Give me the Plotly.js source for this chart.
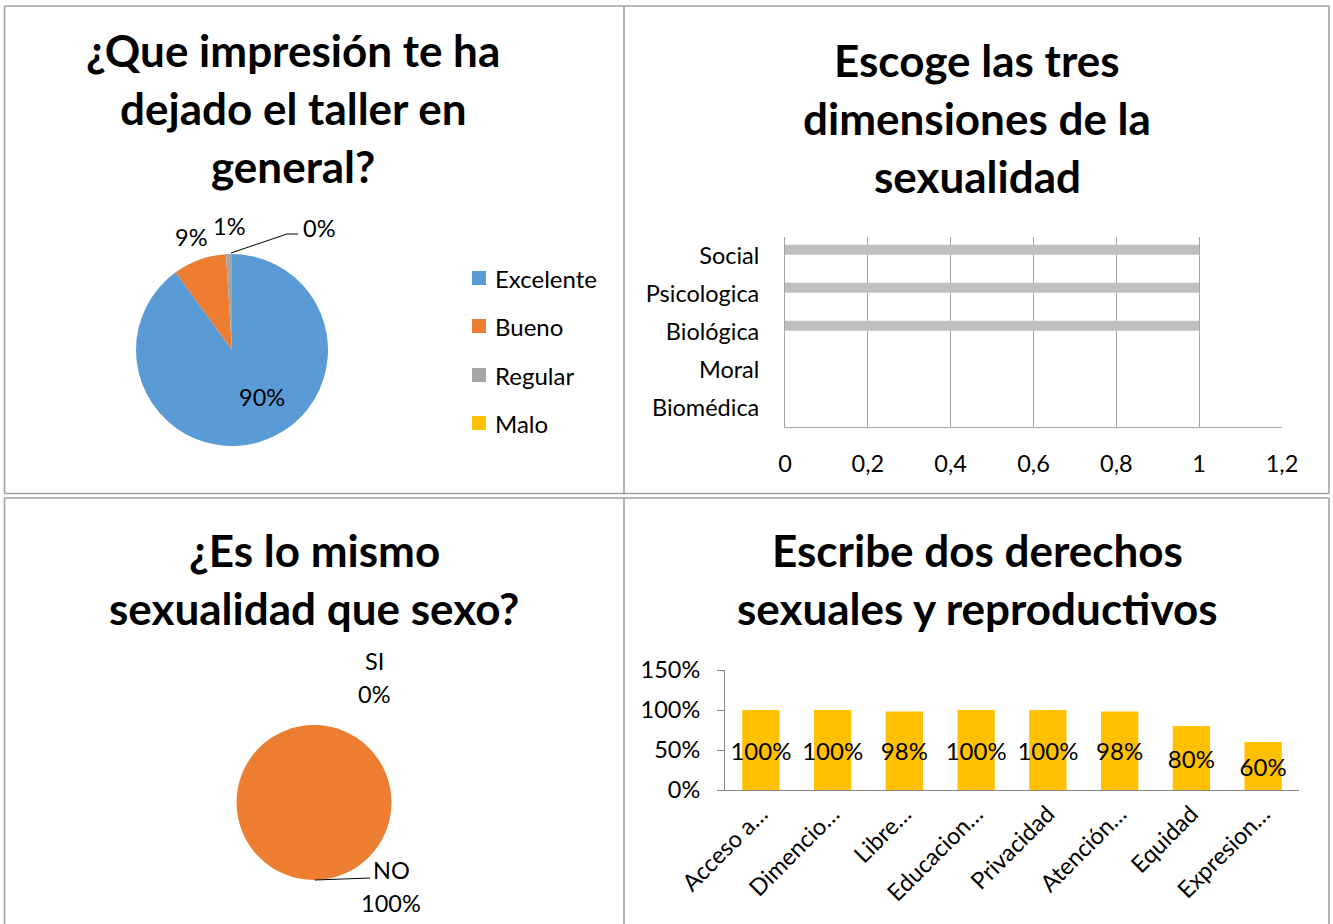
<!DOCTYPE html>
<html>
<head>
<meta charset="utf-8">
<script src="https://cdn.plot.ly/plotly-3.0.1.min.js"></script>
<style>html,body{margin:0;padding:0;background:#fff;}#chart{width:1333px;height:924px;}</style>
</head>
<body>
<div id="chart"></div>
<script>
// ---------- DATA ----------
const q1Title = ['¿Que impresión te ha', 'dejado el taller en', 'general?'];
const q1Labels = ['Excelente', 'Bueno', 'Regular', 'Malo'];
const q1Values = [90, 9, 1, 0];
const q1Colors = ['#5B9BD5', '#ED7D31', '#A5A5A5', '#FFC000'];

const q2Title = ['Escoge las tres', 'dimensiones de la', 'sexualidad'];
const q2Cats = ['Biomédica', 'Moral', 'Biológica', 'Psicologica', 'Social'];
const q2Values = [0, 0, 1, 1, 1];
const q2Ticks = [0, 0.2, 0.4, 0.6, 0.8, 1, 1.2];

const q3Title = ['¿Es lo mismo', 'sexualidad que sexo?'];
const q3Labels = ['SI', 'NO'];
const q3Values = [0, 100];
const q3Colors = ['#5B9BD5', '#ED7D31'];

const q4Title = ['Escribe dos derechos', 'sexuales y reproductivos'];
const q4Cats = ['Acceso a…', 'Dimencio…', 'Libre…', 'Educacion…', 'Privacidad', 'Atención…', 'Equidad', 'Expresion…'];
const q4Values = [1, 1, 0.98, 1, 1, 0.98, 0.8, 0.6];
const q4Ticks = [0, 0.5, 1, 1.5];

// ---------- LAYOUT HELPERS ----------
const W = 1333, H = 924;
const px = x => x / W;
const py = y => 1 - y / H;
const FONT = 'Lato, "Open Sans", sans-serif';
const BORDER = '#a0a0a0';
const TICK = 23.5;

const pct = (vals) => {
  const s = vals.reduce((a, b) => a + b, 0);
  return vals.map(v => Math.round(v / s * 100) + '%');
};

const annotations = [];
const shapes = [];

function addText(text, x, y, size, opts) {
  annotations.push(Object.assign({
    text: text, x: px(x), y: py(y), xref: 'paper', yref: 'paper',
    showarrow: false, xanchor: 'center', yanchor: 'middle',
    font: {family: FONT, size: size, color: '#000'}
  }, opts || {}));
}
function addLine(x0, y0, x1, y1, color, width) {
  shapes.push({type: 'line', xref: 'paper', yref: 'paper',
    x0: px(x0), y0: py(y0), x1: px(x1), y1: py(y1),
    line: {color: color, width: width}});
}

// titles
function addTitle(lines, cx, y0, step) {
  lines.forEach((t, i) => addText('<b>' + t + '</b>', cx, y0 + i * step, 44));
}
addTitle(q1Title, 293, 50, 58);
addTitle(q2Title, 977, 60, 58);
addTitle(q3Title, 314, 550, 58);
addTitle(q4Title, 977, 550, 58);

// panel borders
addLine(4.5, 6, 1329, 6, BORDER, 1.6);
addLine(4.5, 6, 4.5, 493.5, BORDER, 1.6);
addLine(624, 6, 624, 493.5, BORDER, 1.6);
addLine(1329, 6, 1329, 493.5, BORDER, 1.6);
addLine(4.5, 493.5, 1329, 493.5, BORDER, 1.6);
addLine(4.5, 498, 1329, 498, BORDER, 1.6);
addLine(4.5, 498, 4.5, 924, BORDER, 1.6);
addLine(624, 498, 624, 924, BORDER, 1.6);
addLine(1329, 498, 1329, 924, BORDER, 1.6);

// pie 1 labels
const q1Pct = pct(q1Values);
addText(q1Pct[0], 262, 397, TICK);
addText(q1Pct[1], 191, 237, TICK);
addText(q1Pct[2], 229, 226, TICK);
addText(q1Pct[3], 301, 228, TICK, {xanchor: 'left'});
addLine(231, 253, 287, 234, '#000', 1);
addLine(287, 234, 298, 234, '#000', 1);

// pie 1 legend (manual)
const legY = [278, 326, 375, 423];
q1Labels.forEach((lab, i) => {
  shapes.push({type: 'rect', xref: 'paper', yref: 'paper',
    x0: px(472), x1: px(486), y0: py(legY[i] - 7), y1: py(legY[i] + 7),
    fillcolor: q1Colors[i], line: {width: 0}});
  addText(lab, 493, legY[i], 24, {xanchor: 'left'});
});

// pie 2 labels
const q3Pct = pct(q3Values);
addText(q3Labels[0], 374, 661, TICK);
addText(q3Pct[0], 374, 694, TICK);
addText(q3Labels[1], 391, 870, TICK);
addText(q3Pct[1], 391, 903, TICK);
addLine(315, 880, 370, 878, '#000', 1);

// ---------- TRACES ----------
const traces = [
  {
    type: 'pie', labels: q1Labels, values: q1Values, sort: false,
    direction: 'clockwise', rotation: 0,
    marker: {colors: q1Colors, line: {width: 0}},
    textinfo: 'none', hoverinfo: 'none', showlegend: false,
    domain: {x: [px(136), px(328)], y: [py(446), py(254)]}
  },
  {
    type: 'bar', orientation: 'h', x: q2Values, y: q2Cats,
    xaxis: 'x', yaxis: 'y',
    marker: {color: '#BFBFBF'}, width: 0.26, offset: 0.035,
    hoverinfo: 'none', showlegend: false
  },
  {
    type: 'pie', labels: q3Labels, values: q3Values, sort: false,
    direction: 'clockwise', rotation: 0,
    marker: {colors: q3Colors, line: {width: 0}},
    textinfo: 'none', hoverinfo: 'none', showlegend: false,
    domain: {x: [px(236.5), px(391.5)], y: [py(880), py(725)]}
  },
  {
    type: 'bar', x: q4Cats, y: q4Values,
    xaxis: 'x2', yaxis: 'y2',
    marker: {color: '#FFC000'}, width: 0.52,
    texttemplate: '%{y:.0%}', textposition: 'inside', textangle: 0,
    insidetextanchor: 'middle', constraintext: 'none',
    textfont: {family: FONT, size: 24, color: '#000'},
    hoverinfo: 'none', showlegend: false, cliponaxis: false
  }
];

const layout = {
  width: W, height: H,
  margin: {l: 0, r: 0, t: 0, b: 0},
  paper_bgcolor: '#fff', plot_bgcolor: 'rgba(0,0,0,0)',
  separators: ',.',
  font: {family: FONT, size: TICK, color: '#000'},
  showlegend: false,
  xaxis: {
    domain: [px(785), px(1282)], anchor: 'y',
    range: [0, 1.2], tickvals: q2Ticks,
    ticktext: q2Ticks.map(v => String(v).replace('.', ',')),
    showgrid: true, gridcolor: '#a6a6a6', gridwidth: 1,
    zeroline: false, showline: true, linecolor: '#a6a6a6', linewidth: 1,
    ticks: '', ticklabelstandoff: 16,
    tickfont: {family: FONT, size: TICK, color: '#000'}, fixedrange: true
  },
  yaxis: {
    domain: [py(427), py(237)], anchor: 'x',
    type: 'category', categoryorder: 'array', categoryarray: q2Cats,
    range: [-0.5, 4.5],
    showgrid: false, zeroline: false, showline: true, linecolor: '#a6a6a6', linewidth: 1,
    ticks: '', ticklabelstandoff: 20,
    tickfont: {family: FONT, size: TICK, color: '#000'}, fixedrange: true
  },
  xaxis2: {
    domain: [px(725), px(1299)], anchor: 'y2',
    type: 'category', range: [-0.5, 7.5],
    showgrid: false, zeroline: false, showline: true, linecolor: '#868686', linewidth: 1,
    ticks: '', tickangle: -45,
    tickfont: {family: FONT, size: TICK, color: '#000'}, fixedrange: true
  },
  yaxis2: {
    domain: [py(790), py(670)], anchor: 'x2',
    range: [0, 1.5], tickvals: q4Ticks, tickformat: '.0%',
    showgrid: false, zeroline: false, showline: true, linecolor: '#868686', linewidth: 1,
    ticks: 'outside', ticklen: 7, tickcolor: '#868686',
    ticklabelstandoff: 12,
    tickfont: {family: FONT, size: TICK, color: '#000'}, fixedrange: true
  },
  annotations: annotations,
  shapes: shapes
};

Plotly.newPlot('chart', traces, layout, {displayModeBar: false, staticPlot: true});
</script>
</body>
</html>
